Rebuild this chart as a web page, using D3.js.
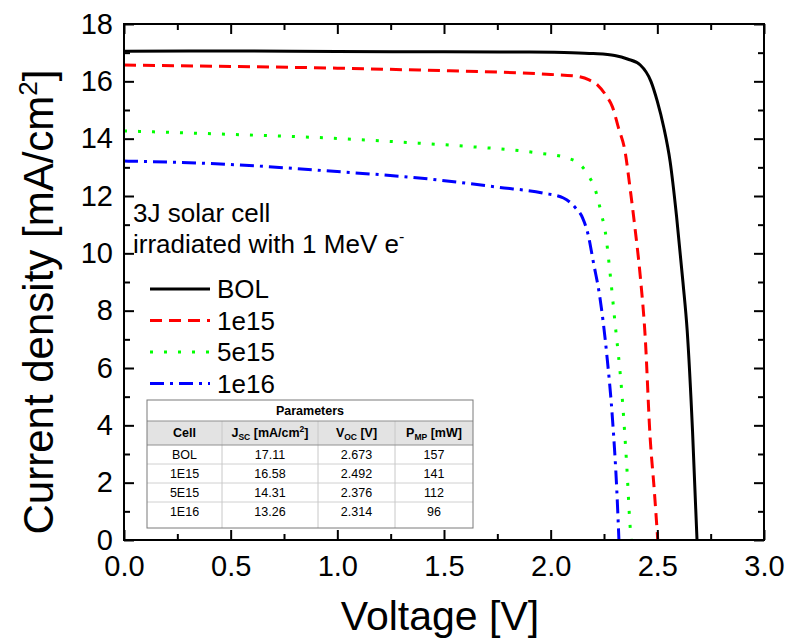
<!DOCTYPE html>
<html>
<head>
<meta charset="utf-8">
<title>3J solar cell IV</title>
<script src="https://d3js.org/d3.v7.min.js"></script>
<style>
  body { margin: 0; background: #fff; }
  svg { font-family: "Liberation Sans", Arial, sans-serif; }
</style>
</head>
<body>
<div id="chart"></div>
<script>
// IV curves (voltage in V, current density in mA/cm2)
var bolV = [0, 0.5, 1.0, 1.5, 1.9, 2.1, 2.2, 2.3, 2.36, 2.42, 2.47, 2.5, 2.53, 2.56, 2.59, 2.62, 2.64, 2.665, 2.686];
var bolJ = [17.05, 17.06, 17.04, 17.03, 17.02, 17.0, 16.97, 16.9, 16.78, 16.57, 16.0, 15.3, 14.4, 13.2, 11.3, 9.0, 7.3, 3.8, 0];

var e15V = [0, 0.5, 1.0, 1.4, 1.76, 2.0, 2.12, 2.18, 2.22, 2.26, 2.29, 2.317, 2.35, 2.37, 2.395, 2.42, 2.443, 2.466, 2.485, 2.502];
var e15J = [16.57, 16.52, 16.46, 16.39, 16.32, 16.24, 16.18, 16.05, 15.87, 15.5, 15.1, 14.4, 13.5, 12.4, 10.9, 9.2, 7.1, 3.6, 1.8, 0];

var e515V = [0, 0.5, 0.966, 1.3, 1.59, 1.94, 2.08, 2.13, 2.176, 2.21, 2.24, 2.255, 2.28, 2.30, 2.334, 2.357, 2.372, 2.378];
var e515J = [14.27, 14.15, 14.02, 13.88, 13.74, 13.5, 13.32, 13.15, 12.73, 12.2, 11.3, 10.8, 9.2, 7.7, 5.1, 2.55, 0.52, 0];

var e16V = [0, 0.5, 0.966, 1.434, 1.75, 1.965, 2.06, 2.115, 2.15, 2.176, 2.2, 2.23, 2.264, 2.29, 2.31, 2.32];
var e16J = [13.22, 13.1, 12.87, 12.59, 12.31, 12.1, 11.93, 11.6, 11.23, 10.64, 9.7, 8.5, 6.4, 4.2, 1.74, 0];

var seriesNames = ["BOL", "1e15", "5e15", "1e16"];
var seriesColors = ["#000000", "#ff0000", "#00ff00", "#0000ff"];
var seriesDash = [null, "12,7", "3,11", "14,6,3,6"];

var xMajor = [0, 0.5, 1.0, 1.5, 2.0, 2.5, 3.0];
var xMinor = [0.25, 0.75, 1.25, 1.75, 2.25, 2.75];
var yMajor = [0, 2, 4, 6, 8, 10, 12, 14, 16, 18];
var yMinor = [1, 3, 5, 7, 9, 11, 13, 15, 17];

var tableCells = ["BOL", "1E15", "5E15", "1E16"];
var tableJsc = ["17.11", "16.58", "14.31", "13.26"];
var tableVoc = ["2.673", "2.492", "2.376", "2.314"];
var tablePmp = ["157", "141", "112", "96"];

var margin = { top: 24, right: 25, bottom: 100, left: 124 };
var svgWidth = 789, svgHeight = 640;
var width = svgWidth - margin.left - margin.right;
var height = svgHeight - margin.top - margin.bottom;

var svg = d3.select("#chart").append("svg")
  .attr("width", svgWidth)
  .attr("height", svgHeight);

var g = svg.append("g")
  .attr("transform", "translate(" + margin.left + "," + margin.top + ")");

var x = d3.scaleLinear().domain([0, 3]).range([0, width]);
var y = d3.scaleLinear().domain([0, 18]).range([height, 0]);

g.append("clipPath").attr("id", "plotclip")
  .append("rect").attr("width", width).attr("height", height);

// curves
var series = [
  { v: bolV, j: bolJ },
  { v: e15V, j: e15J },
  { v: e515V, j: e515J },
  { v: e16V, j: e16J }
];

var line = d3.line()
  .x(function (d) { return x(d[0]); })
  .y(function (d) { return y(d[1]); })
  .curve(d3.curveMonotoneX);

series.forEach(function (s, i) {
  var pts = s.v.map(function (v, k) { return [v, s.j[k]]; });
  g.append("path")
    .datum(pts)
    .attr("clip-path", "url(#plotclip)")
    .attr("fill", "none")
    .attr("stroke", seriesColors[i])
    .attr("stroke-width", 3)
    .attr("stroke-dasharray", seriesDash[i])
    .attr("d", line);
});

// axes, ticks pointing inward
function styleAxis(sel) {
  sel.select(".domain").remove();
  sel.selectAll("line").attr("stroke", "#000").attr("stroke-width", 2);
  sel.selectAll("text").attr("fill", "#000");
}

g.append("g")
  .attr("transform", "translate(0," + height + ")")
  .call(d3.axisBottom(x).tickValues(xMajor).tickSize(-10).tickPadding(15)
    .tickFormat(d3.format(".1f")))
  .call(styleAxis)
  .selectAll("text").style("font-size", "29px");
g.append("g")
  .attr("transform", "translate(0," + height + ")")
  .call(d3.axisBottom(x).tickValues(xMinor).tickSize(-6).tickFormat(""))
  .call(styleAxis);

g.append("g")
  .call(d3.axisTop(x).tickValues(xMajor).tickSize(-10).tickFormat(""))
  .call(styleAxis);
g.append("g")
  .call(d3.axisTop(x).tickValues(xMinor).tickSize(-6).tickFormat(""))
  .call(styleAxis);

g.append("g")
  .call(d3.axisLeft(y).tickValues(yMajor).tickSize(-10).tickPadding(11)
    .tickFormat(d3.format("d")))
  .call(styleAxis)
  .selectAll("text").style("font-size", "29px");
g.append("g")
  .call(d3.axisLeft(y).tickValues(yMinor).tickSize(-6).tickFormat(""))
  .call(styleAxis);

g.append("g")
  .attr("transform", "translate(" + width + ",0)")
  .call(d3.axisRight(y).tickValues(yMajor).tickSize(-10).tickFormat(""))
  .call(styleAxis);
g.append("g")
  .attr("transform", "translate(" + width + ",0)")
  .call(d3.axisRight(y).tickValues(yMinor).tickSize(-6).tickFormat(""))
  .call(styleAxis);

g.append("rect")
  .attr("width", width).attr("height", height)
  .attr("fill", "none").attr("stroke", "#000").attr("stroke-width", 2);

// axis titles
svg.append("text")
  .attr("x", margin.left + width / 2 - 4).attr("y", 630)
  .attr("text-anchor", "middle")
  .style("font-size", "41px")
  .text("Voltage [V]");

var yt = svg.append("text")
  .attr("transform", "translate(53,302) rotate(-90)")
  .attr("text-anchor", "middle")
  .style("font-size", "42px");
yt.append("tspan").text("Current density [mA/cm");
yt.append("tspan").attr("dy", -16).style("font-size", "26px").text("2");
yt.append("tspan").attr("dy", 16).text("]");

// legend
svg.append("text").attr("x", 133).attr("y", 222).style("font-size", "26px")
  .text("3J solar cell");
var t2 = svg.append("text").attr("x", 133).attr("y", 253).style("font-size", "26px");
t2.append("tspan").text("irradiated with 1 MeV e");
t2.append("tspan").attr("dy", -11).style("font-size", "16px").text("-");

var legend = svg.append("g");
seriesNames.forEach(function (name, i) {
  var ly = 289 + i * 31.5;
  legend.append("line")
    .attr("x1", 150).attr("x2", 210).attr("y1", ly).attr("y2", ly)
    .attr("stroke", seriesColors[i]).attr("stroke-width", 3)
    .attr("stroke-dasharray", seriesDash[i]);
  legend.append("text")
    .attr("x", 217).attr("y", ly).attr("dy", "0.36em")
    .style("font-size", "26px")
    .text(name);
});

// parameter table
var tb = svg.append("g").style("font-size", "12.5px");
var tLeft = 147, tRight = 473, tTop = 400;
var colEdges = [tLeft, 222, 318, 395, tRight];
var paramBottom = 421, headBottom = 445, rowH = 19, tBottom = 528;

tb.append("rect").attr("x", tLeft).attr("y", paramBottom)
  .attr("width", tRight - tLeft).attr("height", headBottom - paramBottom)
  .attr("fill", "#e3e3e3");

tableCells.forEach(function (c, i) {
  if (i > 0) {
    tb.append("line").attr("x1", tLeft).attr("x2", tRight)
      .attr("y1", headBottom + i * rowH).attr("y2", headBottom + i * rowH)
      .attr("stroke", "#d0d0d0");
  }
});
colEdges.slice(1, 4).forEach(function (cx) {
  tb.append("line").attr("x1", cx).attr("x2", cx)
    .attr("y1", paramBottom).attr("y2", tBottom)
    .attr("stroke", "#c8c8c8");
});
tb.append("line").attr("x1", tLeft).attr("x2", tRight)
  .attr("y1", paramBottom).attr("y2", paramBottom).attr("stroke", "#909090");
tb.append("line").attr("x1", tLeft).attr("x2", tRight)
  .attr("y1", headBottom).attr("y2", headBottom).attr("stroke", "#909090");
tb.append("rect").attr("x", tLeft).attr("y", tTop)
  .attr("width", tRight - tLeft).attr("height", tBottom - tTop)
  .attr("fill", "none").attr("stroke", "#7a7a7a");

tb.append("text").attr("x", (tLeft + tRight) / 2).attr("y", (tTop + paramBottom) / 2)
  .attr("dy", "0.36em").attr("text-anchor", "middle")
  .style("font-weight", "bold").text("Parameters");

var colMid = function (k) { return (colEdges[k] + colEdges[k + 1]) / 2; };
var headY = (paramBottom + headBottom) / 2 + 4;

tb.append("text").attr("x", colMid(0)).attr("y", headY).attr("text-anchor", "middle")
  .style("font-weight", "bold").text("Cell");

var h1 = tb.append("text").attr("x", colMid(1)).attr("y", headY).attr("text-anchor", "middle")
  .style("font-weight", "bold");
h1.append("tspan").text("J");
h1.append("tspan").attr("dy", 3).style("font-size", "8.5px").text("SC");
h1.append("tspan").attr("dy", -3).text(" [mA/cm");
h1.append("tspan").attr("dy", -5).style("font-size", "8.5px").text("2");
h1.append("tspan").attr("dy", 5).text("]");

var h2 = tb.append("text").attr("x", colMid(2)).attr("y", headY).attr("text-anchor", "middle")
  .style("font-weight", "bold");
h2.append("tspan").text("V");
h2.append("tspan").attr("dy", 3).style("font-size", "8.5px").text("OC");
h2.append("tspan").attr("dy", -3).text(" [V]");

var h3 = tb.append("text").attr("x", colMid(3)).attr("y", headY).attr("text-anchor", "middle")
  .style("font-weight", "bold");
h3.append("tspan").text("P");
h3.append("tspan").attr("dy", 3).style("font-size", "8.5px").text("MP");
h3.append("tspan").attr("dy", -3).text(" [mW]");

tableCells.forEach(function (c, i) {
  var ry = headBottom + i * rowH + rowH / 2;
  [c, tableJsc[i], tableVoc[i], tablePmp[i]].forEach(function (val, k) {
    tb.append("text").attr("x", colMid(k)).attr("y", ry).attr("dy", "0.36em")
      .attr("text-anchor", "middle").text(val);
  });
});
</script>
</body>
</html>
